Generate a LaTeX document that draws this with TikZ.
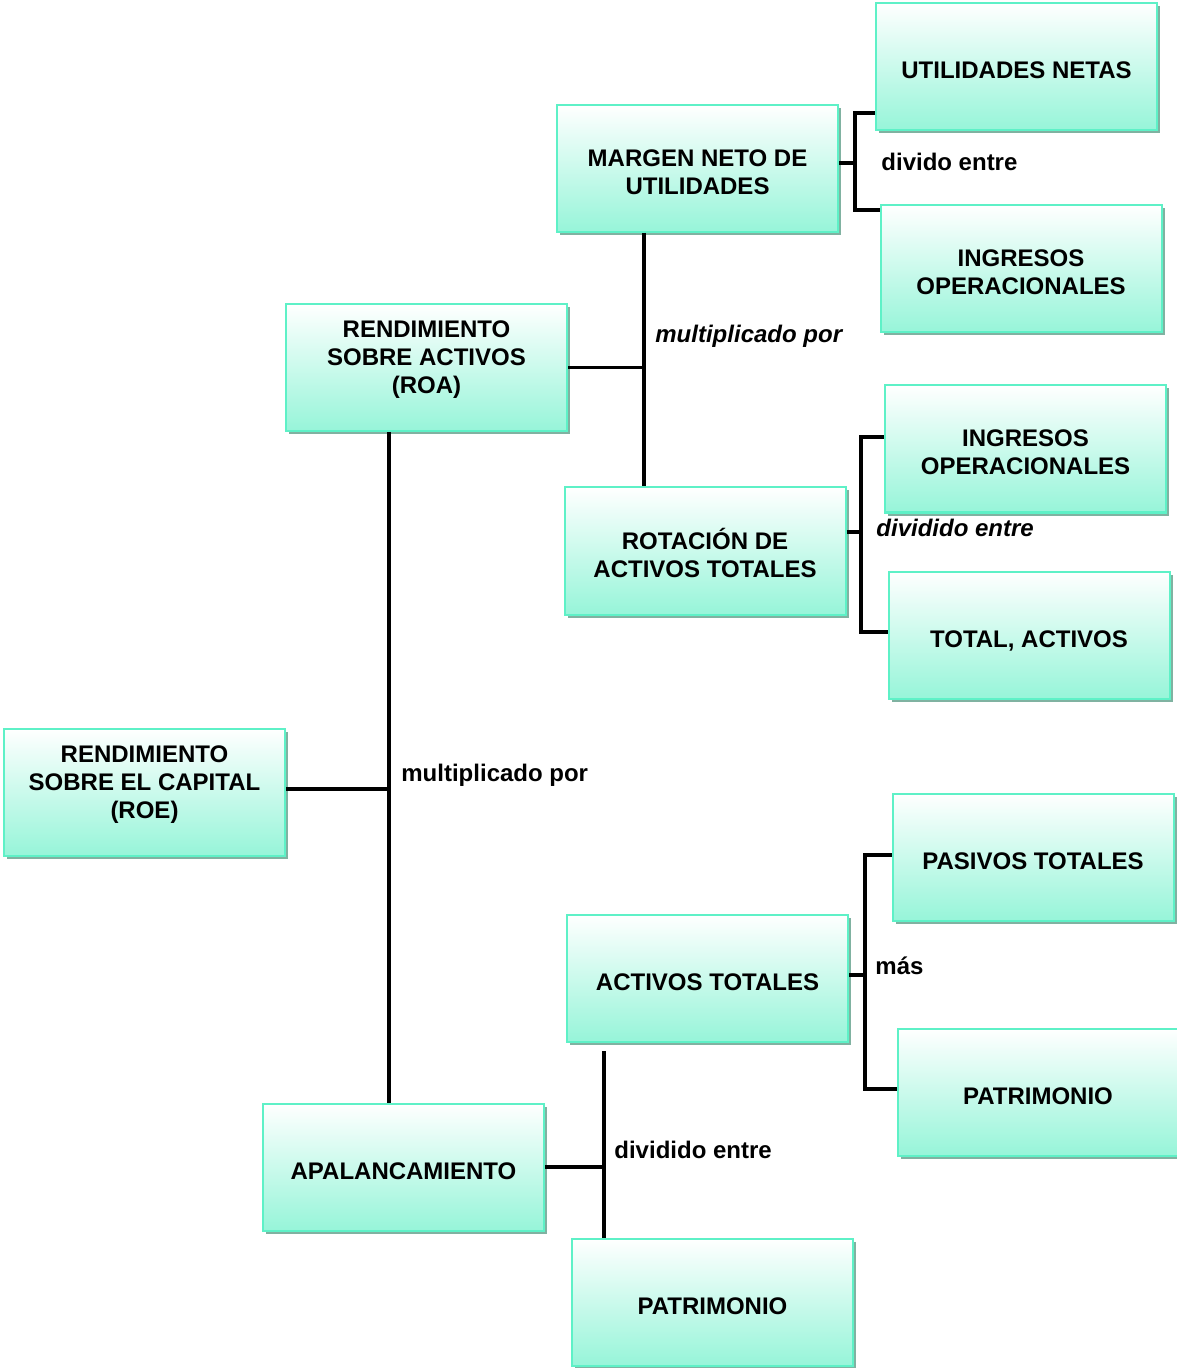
\documentclass[tikz,border=0pt]{standalone}
\usepackage{fontspec}
\setmainfont{Liberation Sans}
\usetikzlibrary{shadows}

\newlength{\du}
\setlength{\du}{0.5pt}

\definecolor{boxline}{rgb}{0.370000, 0.945000, 0.780000}
\definecolor{boxfill}{rgb}{0.590000, 0.960000, 0.850000}
\definecolor{boxshade}{rgb}{0.500000, 0.700000, 0.630000}

\tikzset{
  ratio/.style={draw=boxline, line width=2\du, top color=white, bottom color=boxfill,
    drop shadow={shadow xshift=3\du, shadow yshift=-3\du, fill=boxshade, opacity=1},
    minimum width=281\du, minimum height=127\du, inner sep=0pt, align=center,
    text height=12pt, text depth=0pt,
    font=\fontsize{12}{14}\selectfont\bfseries},
  multiline/.style={text height=26pt},
  link/.style={draw=black, line width=3.5\du},
  oplabel/.style={anchor=base west, inner sep=0pt, font=\fontsize{12}{14}\selectfont\bfseries},
}

\begin{document}
\begin{tikzpicture}
\pgftransformxscale{1.000000}
\pgftransformyscale{-1.000000}
\useasboundingbox (0\du,0\du) rectangle (1176\du,1368\du);
% boxes
\node[ratio] (utilnet) at (1016.5\du,66.5\du){UTILIDADES NETAS};
\node[ratio, multiline] (margen) at (697.5\du,168.5\du){MARGEN NETO DE\\UTILIDADES};
\node[ratio, multiline] (ingop1) at (1021\du,269\du){INGRESOS\\OPERACIONALES};
\node[ratio, multiline] (roa) at (426.5\du,367.5\du){RENDIMIENTO\\SOBRE ACTIVOS\\(ROA)};
\node[ratio, multiline] (ingop2) at (1025.5\du,449\du){INGRESOS\\OPERACIONALES};
\node[ratio, multiline] (rotacion) at (705\du,551\du){ROTACIÓN DE\\ACTIVOS TOTALES};
\node[ratio] (totact) at (1029\du,635\du){TOTAL, ACTIVOS};
\node[ratio, multiline] (roe) at (144.5\du,792\du){RENDIMIENTO\\SOBRE EL CAPITAL\\(ROE)};
\node[ratio] (pasivos) at (1033\du,857\du){PASIVOS TOTALES};
\node[ratio] (activos) at (707.5\du,978\du){ACTIVOS TOTALES};
\node[ratio] (patri1) at (1038\du,1092\du){PATRIMONIO};
\node[ratio] (apal) at (403.5\du,1167\du){APALANCAMIENTO};
\node[ratio] (patri2) at (712.5\du,1302\du){PATRIMONIO};
% margen bracket
\coordinate (mtop) at (855\du,113\du);
\coordinate (mmid) at (855\du,163\du);
\coordinate (mbot) at (855\du,210\du);
\draw[link] (utilnet.west |- mtop)--(mtop)--(mbot)--(ingop1.west |- mbot);
\draw[link] (margen.east |- mmid)--(mmid);
\node[oplabel] (lbldiv1) at (881\du,171\du){divido entre};
% roa line
\coordinate (mx) at (644\du,366\du);
\draw[link] (mx |- margen.south)--(mx |- rotacion.north);
\draw[link] (roa.east)--(mx |- roa.east);
\node[oplabel, font=\fontsize{12}{14}\selectfont\bfseries\itshape] (lblmul1) at (655\du,343\du){multiplicado por};
% rotacion bracket
\coordinate (rtop) at (861\du,437\du);
\coordinate (rmid) at (861\du,532\du);
\coordinate (rbot) at (861\du,632\du);
\draw[link] (ingop2.west |- rtop)--(rtop)--(rbot)--(totact.west |- rbot);
\draw[link] (rotacion.east |- rmid)--(rmid);
\node[oplabel, font=\fontsize{12}{14}\selectfont\bfseries\itshape] (lbldiv2) at (876\du,537\du){dividido entre};
% roe line
\coordinate (cx) at (389\du,789\du);
\draw[link] (cx |- roa.south)--(cx |- apal.north);
\draw[link] (roe.east |- cx)--(cx);
\node[oplabel] (lblmul2) at (401\du,781\du){multiplicado por};
% activos bracket
\coordinate (atop) at (865\du,855\du);
\coordinate (amid) at (865\du,975\du);
\coordinate (abot) at (865\du,1089\du);
\draw[link] (pasivos.west |- atop)--(atop)--(abot)--(patri1.west |- abot);
\draw[link] (activos.east |- amid)--(amid);
\node[oplabel] (lblmas) at (875\du,974\du){más};
% apalancamiento line
\coordinate (dtop) at (604\du,1051\du);
\draw[link] (dtop)--(dtop |- patri2.north);
\draw[link] (apal.east)--(dtop |- apal.east);
\node[oplabel] (lbldiv3) at (614\du,1158\du){dividido entre};
\end{tikzpicture}
\end{document}
